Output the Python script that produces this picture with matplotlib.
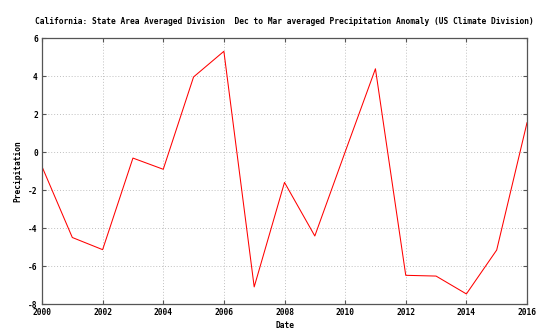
import matplotlib
matplotlib.use("Agg")
import matplotlib.pyplot as plt

years = [2000, 2001, 2002, 2003, 2004, 2005, 2006, 2007, 2008,
         2009, 2010, 2011, 2012, 2013, 2014, 2015, 2016]
anomaly = [-0.77, -4.5, -5.14, -0.32, -0.91, 3.95, 5.3, -7.1, -1.6,
           -4.42, 0.0, 4.38, -6.49, -6.53, -7.47, -5.16, 1.54]
x_ticks = [2000, 2002, 2004, 2006, 2008, 2010, 2012, 2014, 2016]
y_ticks = [-8, -6, -4, -2, 0, 2, 4, 6]
title = "California: State Area Averaged Division  Dec to Mar averaged Precipitation Anomaly (US Climate Division)"

W, H = 547, 334
L, R, T, B = 42, 527, 38, 304
fig = plt.figure(figsize=(W / 100, H / 100), dpi=100)
ax = fig.add_axes([L / W, 1 - B / H, (R - L) / W, (B - T) / H])

font = dict(family="DejaVu Sans Mono", weight="bold", size=5.7)

ax.plot(years, anomaly, color="#ff0000", linewidth=0.75)
ax.set_xlim(2000, 2016)
ax.set_ylim(-8, 6)
ax.set_xticks(x_ticks)
ax.set_yticks(y_ticks)
ax.set_xticklabels([str(v) for v in x_ticks], fontdict=font)
ax.set_yticklabels([str(v) for v in y_ticks], fontdict=font)
ax.tick_params(direction="in", top=True, right=True, length=3, width=0.8,
               color="#555555", pad=3)
ax.grid(True, color="#c0c0c0", linestyle=(0, (1, 2)), linewidth=0.7)
for s in ax.spines.values():
    s.set_color("#555555")
    s.set_linewidth(0.9)

ax.set_xlabel("Date", fontdict=font, va="center")
ax.set_ylabel("Precipitation", fontdict=font, va="center")
ax.xaxis.set_label_coords(0.5, (B - 326) / (B - T))
ax.yaxis.set_label_coords((18 - L) / (R - L), 0.5)
fig.text((L + R) / 2 / W, 1 - 22 / H, title, ha="center", va="center", **font)

fig.savefig("out.png", dpi=100)
